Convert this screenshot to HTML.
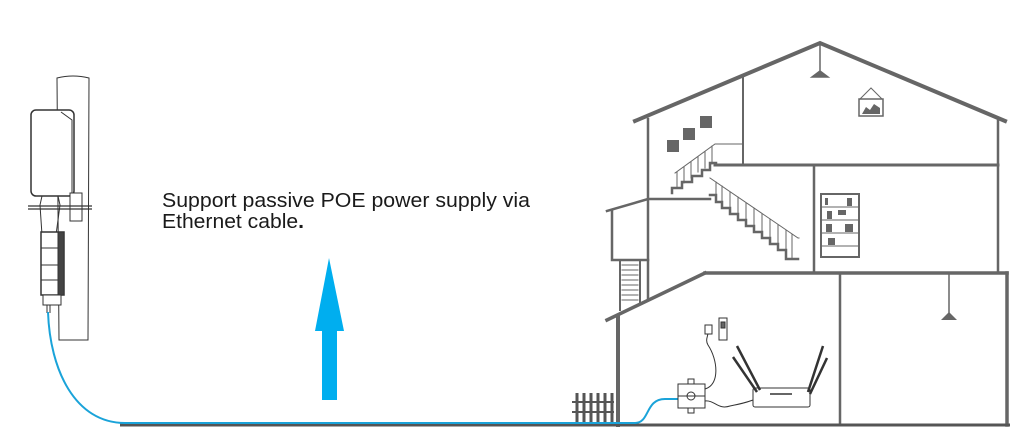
<!DOCTYPE html>
<html><head><meta charset="utf-8"><style>html,body{margin:0;padding:0;background:#fff}svg{display:block}</style></head>
<body>
<svg width="1030" height="429" viewBox="0 0 1030 429" xmlns="http://www.w3.org/2000/svg">
<rect width="1030" height="429" fill="#fff"/>
<!-- antenna pole -->
<g fill="none" stroke="#333" stroke-width="1">
<path d="M57 78 Q73 74 89 78 L88 340 L59 340 Z" fill="#fff"/>
<rect x="31" y="110" width="43" height="86" rx="5" fill="#fff" stroke-width="1.5"/>
<path d="M61 112 L72 120 L72 194"/>
<path d="M42 196 L40 205 L42 235 M58 196 L60 205 L56 235"/>
<rect x="70" y="193" width="12" height="28" fill="#fff"/>
<path d="M28 206 L92 206 M28 209 L92 209" stroke-width="1.3"/>
<rect x="41" y="232" width="23" height="63" fill="#fff" stroke-width="1.5"/>
<path d="M41 248 L64 248 M41 265 L64 265 M41 280 L64 280"/>
<rect x="58" y="232" width="6" height="63" fill="#444"/>
<rect x="43" y="295" width="18" height="10" fill="#fff"/>
<path d="M47 305 L47 313 M50 305 L50 313"/>
</g>
<!-- text -->
<text x="162" y="207" font-family="Liberation Sans, Arial, sans-serif" font-size="20" fill="#1a1a1a" textLength="368" lengthAdjust="spacingAndGlyphs">Support passive POE power supply via</text>
<text x="162" y="228" font-family="Liberation Sans, Arial, sans-serif" font-size="20" fill="#1a1a1a" textLength="142" lengthAdjust="spacingAndGlyphs">Ethernet cable<tspan font-weight="bold">.</tspan></text>
<!-- arrow -->
<path d="M329 258 L344 331 L337 331 L337 400 L322 400 L322 331 L315 331 Z" fill="#00aeef"/>
<!-- house -->
<g stroke="#666" fill="none" stroke-linecap="square">
<path d="M635 121 L820 43 L1005 121" stroke-width="4"/>
<path d="M648 119 L648 298" stroke-width="2.5"/>
<path d="M743 78 L743 165" stroke-width="2"/>
<path d="M715 165 L998 165" stroke-width="3"/>
<path d="M998 120 L998 273" stroke-width="2.5"/>
<path d="M814 165 L814 273" stroke-width="2.5"/>
<path d="M705 273 L1007 273" stroke-width="3.5"/>
<path d="M705 273 L607 320" stroke-width="3.5"/>
<path d="M618 316 L618 425" stroke-width="4"/>
<path d="M1007 273 L1007 425" stroke-width="3.5"/>
<path d="M840 273 L840 425" stroke-width="2.5"/>
<path d="M949 273 L949 314" stroke-width="1.5"/>
<path d="M607 211 L648 199 L710 199" stroke-width="2.5"/>
<path d="M612 211 L612 260 L648 260" stroke-width="2.5"/>
<path d="M620 260 L620 310 M640 260 L640 304" stroke-width="2"/>
<path d="M622 265H638M622 270H638M622 275H638M622 280H638M622 285H638M622 290H638M622 295H638M622 300H638" stroke-width="1"/>
<path d="M675 173 L715 144 L743 144" stroke-width="1"/>
<path d="M672 193 L672 188 L682 188 L682 182 L692 182 L692 176 L702 176 L702 170 L710 170 L710 163 L716 163" stroke-width="2.5"/>
<path d="M677 172V188M684 167V183M691 162V178M698 157V172M705 152V168M712 146V164" stroke-width="1"/>
<path d="M710 178 L798 238 L799 238" stroke-width="1"/>
<path d="M710 195 L716 195 L716 202 L722 202 L722 208 L730 208 L730 214 L738 214 L738 220 L746 220 L746 226 L754 226 L754 232 L762 232 L762 238 L770 238 L770 244 L778 244 L778 250 L786 250 L786 259 L798 259" stroke-width="2.5"/>
<path d="M716 182V202M722 186V208M730 192V214M738 197V220M746 203V226M754 208V232M762 214V238M770 219V244M778 225V250M786 230V256M792 234V258" stroke-width="1"/>
<rect x="821" y="194" width="38" height="63" stroke-width="2"/>
<path d="M822 207H858M822 220H858M822 233H858M822 246H858" stroke-width="1"/>
<rect x="859" y="99" width="24" height="17" stroke-width="1.5"/>
<path d="M860 99 L871 88 L882 99" stroke-width="1"/>
</g>
<g fill="#666">
<rect x="667" y="140" width="12" height="12"/>
<rect x="683" y="128" width="12" height="12"/>
<rect x="700" y="116" width="12" height="12"/>
<path d="M820 43 L820 71 L812 77 L828 77 L820 71Z" stroke="#666" stroke-width="1.5"/>
<path d="M949 312 L941 320 L957 320 Z"/>
<path d="M862 114 L866 107 L870 110 L874 104 L880 108 L880 114Z"/>
<rect x="825" y="198" width="3" height="7"/><rect x="847" y="198" width="5" height="8"/>
<rect x="827" y="211" width="5" height="8"/><rect x="838" y="210" width="8" height="5"/>
<rect x="826" y="224" width="6" height="8"/><rect x="845" y="224" width="8" height="8"/>
<rect x="828" y="238" width="7" height="7"/>
</g>
<!-- fence -->
<g stroke="#555" stroke-width="3">
<path d="M577 393V425M584 393V425M591 393V425M598 393V425M605 393V425M612 393V425"/>
<path d="M572 402H614M572 412H614" stroke-width="2"/>
</g>
<path d="M120 425 L1010 425" stroke="#555" stroke-width="3"/>
<path d="M48 312 C50 370 75 423 125 423 L635 423 C650 423 645 399 665 399 L680 399" stroke="#1aa3d9" stroke-width="2" fill="none"/>
<g stroke="#333" fill="#fff" stroke-width="1">
<rect x="678" y="384" width="27" height="24"/>
<circle cx="691" cy="396" r="4"/>
<path d="M678 396H705"/>
<rect x="688" y="379" width="6" height="5"/><rect x="688" y="408" width="6" height="5"/>
<path d="M705 389 C720 385 718 360 708 345 C705 340 708 336 708 333" fill="none"/>
<path d="M705 401 C715 400 718 410 730 406 C740 404 745 403 753 400" fill="none"/>
<rect x="705" y="325" width="7" height="9"/>
<rect x="719" y="318" width="8" height="22"/>
<rect x="721" y="322" width="4" height="6" fill="#666"/>
<rect x="753" y="388" width="57" height="19" rx="2"/>
<path d="M733 357 L757 392 M737 346 L760 390 M823 346 L808 392 M827 358 L810 394" stroke-width="2.5"/>
<path d="M770 394H792" stroke-width="1.5"/>
</g>
</svg>
</body></html>
